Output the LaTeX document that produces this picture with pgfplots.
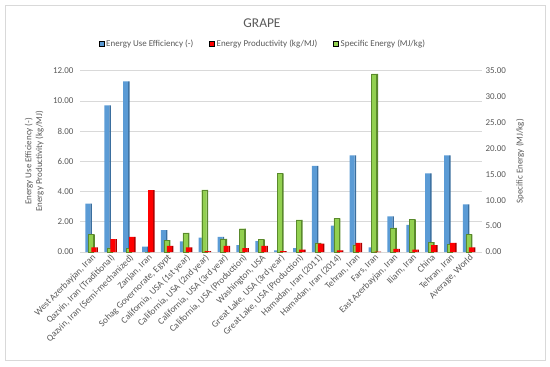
\documentclass[border=0pt]{standalone}
\usepackage{pgfplots}
\pgfplotsset{compat=1.18}
\usepackage{pgfplotstable}
\usepackage{fontspec}
\setmainfont{Carlito}
\definecolor{eb}{HTML}{5B9BD5}
\definecolor{ebd}{HTML}{3A6E9E}
\definecolor{er}{HTML}{FF0000}
\definecolor{erd}{HTML}{A80000}
\definecolor{eg}{HTML}{92D050}
\definecolor{egd}{HTML}{5A8A2C}
\definecolor{txt}{HTML}{595959}
\definecolor{grd}{HTML}{D9D9D9}
\pgfplotstableread{
x blue red green
0 3.2 0.3 3.4
1 9.7 0.85 0.8
2 11.3 1.0 0.75
3 0.35 4.1 0.0
4 1.45 0.4 2.3
5 0.7 0.3 3.7
6 0.95 0.05 12.0
7 1.0 0.4 2.55
8 0.45 0.25 4.5
9 0.72 0.4 2.45
10 0.1 0.05 15.2
11 0.25 0.15 6.2
12 5.7 0.55 1.75
13 1.75 0.1 6.5
14 6.4 0.6 1.4
15 0.3 0.03 34.4
16 2.35 0.2 4.65
17 1.8 0.15 6.3
18 5.2 0.45 1.9
19 6.4 0.6 1.45
20 3.15 0.3 3.4
}\data
\pgfplotsset{
  base/.style={
    scale only axis, width=402bp, height=181.3bp,
    at={(80bp,114bp)}, anchor=south west,
    xmin=-0.604, xmax=20.69, ymin=0,
    axis line style={draw=none},
    major tick length=0pt,
    tick label style={font=\fontsize{9}{10.8}\selectfont, text=txt},
    label style={font=\fontsize{9}{10.8}\selectfont, text=txt},
    /pgf/number format/fixed,
    /pgf/number format/fixed zerofill,
    /pgf/number format/precision=2,
    /pgf/number format/assume math mode=true,
    clip=false,
  },
  fb/.style={ybar, bar width=5bp, draw=none, forget plot},
  sb/.style={ybar, bar width=1.5bp, draw=none, forget plot},
}
\begin{document}
\begin{tikzpicture}[x=1bp,y=1bp]
\path (0,0) rectangle (550,366);
\draw[grd, line width=0.6bp] (5,6) rectangle (545,361);
\node[text=txt, font=\fontsize{13.5}{16}\selectfont] at (262,343) {GRAPE};
% left axis: blue
\begin{axis}[base,
  ymax=12, ytick={0,2,...,12},
  ymajorgrids, grid style={grd, line width=0.6bp},
  yticklabel style={xshift=-3bp},
  xtick={0,...,20},
  xticklabels={{West Azerbayjan, Iran},{Qazvin, Iran (Traditional)},{Qazvin, Iran (Semi-mechanized)},{Zanjan, Iran},{Sohag Governorate, Egypt},{California, USA (1st year)},{California, USA (2nd year)},{California, USA (3rd year)},{California, USA (Production)},{Washington, USA},{Great Lake, USA (3rd year)},{Great Lake, USA (Production)},{Hamadan, Iran (2011)},{Hamadan, Iran (2014)},{Tehran, Iran},{Fars, Iran},{East Azerbayjan, Iran},{Iliam, Iran},{China},{Tehran, Iran},{Average, World}},
  xticklabel style={rotate=45, anchor=north east, inner sep=1bp, font=\fontsize{9.3}{11}\selectfont},
  ylabel={Energy Use Efficiency (-)\\Energy Productivity (kg/MJ)},
  ylabel style={align=center, at={(axis description cs:-0.114,0.5)}, anchor=center},
  legend style={at={(axis description cs:0.455,1.147)}, anchor=center, draw=none, fill=none,
    legend columns=3, font=\fontsize{9}{10.8}\selectfont, text=txt,
    /tikz/every even column/.append style={column sep=14bp}},
  legend image code/.code={\fill[#1] (0bp,-2.5bp) rectangle (5bp,2.5bp);},
]
\addlegendimage{fill=eb}
\addlegendentry{Energy Use Efficiency (-)}
\addlegendimage{fill=er}
\addlegendentry{Energy Productivity (kg/MJ)}
\addlegendimage{fill=eg}
\addlegendentry{Specific Energy (MJ/kg)}
\addplot[sb, fill=ebd, bar shift=-0.25bp] table[x=x,y=blue]{\data};
\addplot[fb, fill=eb, bar shift=-3.5bp] table[x=x,y=blue]{\data};
\end{axis}
% right axis: green
\begin{axis}[base,
  ymax=35, ytick={0,5,...,35},
  axis y line*=right, hide x axis,
  ylabel={Specific Energy (MJ/kg)},
  ylabel style={at={(axis description cs:1.0945,0.5)}, anchor=center},
]
\addplot[sb, fill=egd, bar shift=2.75bp] table[x=x,y=green]{\data};
\addplot[fb, fill=eg, bar shift=-0.5bp, draw=egd, line width=0.3bp] table[x=x,y=green]{\data};
\end{axis}
% front: red
\begin{axis}[base, ymax=12, hide axis]
\addplot[sb, fill=erd, bar shift=5.75bp] table[x=x,y=red]{\data};
\addplot[fb, fill=er, bar shift=2.5bp] table[x=x,y=red]{\data};
\end{axis}
\end{tikzpicture}
\end{document}
